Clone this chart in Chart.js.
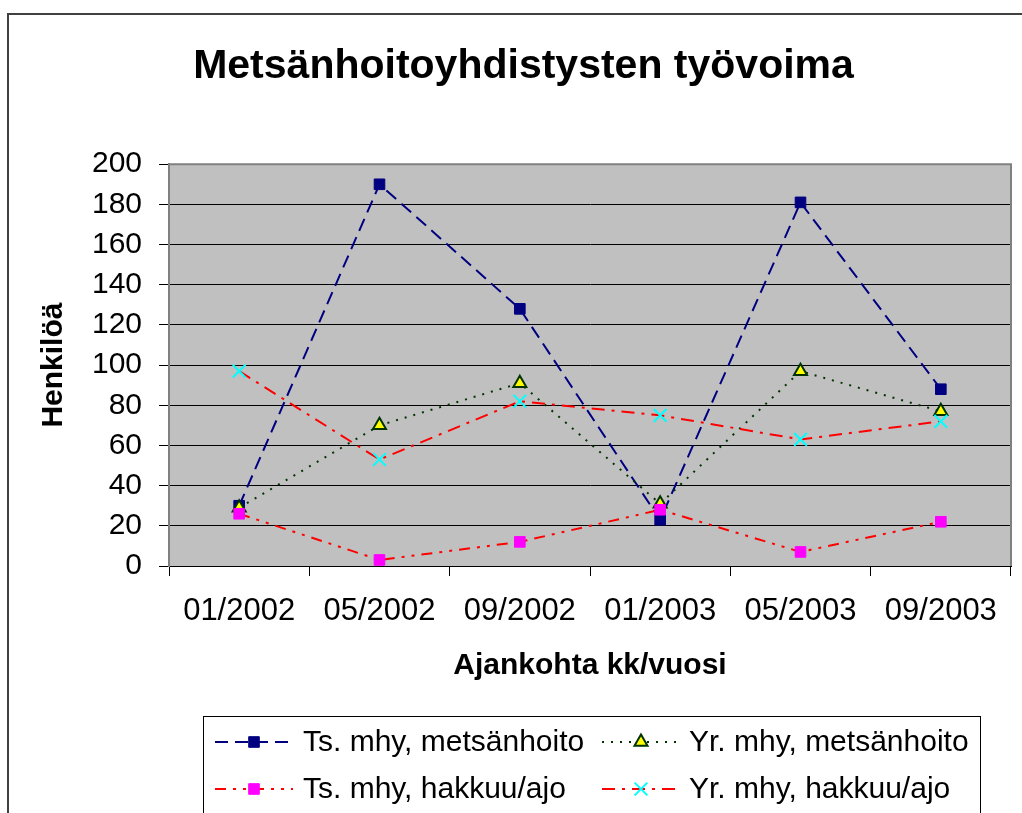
<!DOCTYPE html>
<html>
<head>
<meta charset="utf-8">
<title>Metsänhoitoyhdistysten työvoima</title>
<script src="https://cdn.jsdelivr.net/npm/chart.js@4/dist/chart.umd.min.js"></script>
<style>
  html, body { margin: 0; padding: 0; background: #ffffff; }
  canvas { display: block; }
</style>
</head>
<body>
<canvas id="chart" width="1022" height="813"></canvas>
<script>
// ==============================
// Data
// ==============================
const periods = ['01/2002', '05/2002', '09/2002', '01/2003', '05/2003', '09/2003'];

const tsMetsanhoito = [30, 190, 128, 23, 181, 88];
const yrMetsanhoito = [29, 70, 91, 31, 97, 77];
const tsHakkuu = [26, 3, 12, 28, 7, 22];
const yrHakkuu = [97, 53, 82, 75, 63, 72];

const seriesNames = [
    'Ts. mhy, metsänhoito',
    'Yr. mhy, metsänhoito',
    'Ts. mhy, hakkuu/ajo',
    'Yr. mhy, hakkuu/ajo'
];

const yMin = 0;
const yMax = 200;
const yStep = 20;

const FONT = 'Arial, "Liberation Sans", sans-serif';
Chart.defaults.font.family = FONT;
Chart.defaults.color = '#000000';

// ==============================
// Plugins: frame, plot background, legend
// ==============================
const frameAndPlot = {
    id: 'frameAndPlot',
    beforeDraw(chart) {
        const ctx = chart.ctx;
        const a = chart.chartArea;
        ctx.save();
        ctx.fillStyle = '#ffffff';
        ctx.fillRect(0, 0, chart.width, chart.height);
        // outer chart frame
        ctx.strokeStyle = '#404040';
        ctx.lineWidth = 2;
        ctx.strokeRect(8, 14, chart.width + 20, chart.height + 20);
        // plot area
        ctx.fillStyle = '#c0c0c0';
        ctx.fillRect(a.left, a.top, a.right - a.left, a.bottom - a.top);
        ctx.restore();
    },
    afterDatasetsDraw(chart) {
        const ctx = chart.ctx;
        const a = chart.chartArea;
        ctx.save();
        ctx.strokeStyle = '#808080';
        ctx.lineWidth = 2;
        ctx.beginPath();
        ctx.moveTo(a.left, a.top);
        ctx.lineTo(a.right, a.top);
        ctx.lineTo(a.right, a.bottom);
        ctx.stroke();
        ctx.restore();
    }
};

const boxLegend = {
    id: 'boxLegend',
    afterDraw(chart) {
        const ctx = chart.ctx;
        const box = { left: 203.5, top: 716.5, right: 980.5 };
        const cols = [{ lineStart: 215, lineEnd: 293, text: 303 }, { lineStart: 602, lineEnd: 680, text: 689 }];
        const rows = [742, 789];

        ctx.save();
        ctx.strokeStyle = '#000000';
        ctx.lineWidth = 1;
        ctx.strokeRect(box.left, box.top, box.right - box.left, chart.height + 20 - box.top);

        chart.data.datasets.forEach((ds, i) => {
            const col = cols[i % 2];
            const y = rows[Math.floor(i / 2)];
            // line sample
            ctx.strokeStyle = ds.borderColor;
            ctx.lineWidth = ds.borderWidth;
            ctx.setLineDash(ds.borderDash || []);
            ctx.beginPath();
            ctx.moveTo(col.lineStart, y);
            ctx.lineTo(col.lineEnd, y);
            ctx.stroke();
            ctx.setLineDash([]);
            // marker
            ctx.fillStyle = ds.pointBackgroundColor;
            ctx.strokeStyle = ds.pointBorderColor;
            ctx.lineWidth = ds.pointBorderWidth;
            Chart.helpers.drawPoint(ctx, {
                pointStyle: ds.pointStyle,
                radius: ds.pointRadius,
                rotation: 0,
                borderWidth: ds.pointBorderWidth
            }, (col.lineStart + col.lineEnd) / 2, y);
            // label
            ctx.fillStyle = '#000000';
            ctx.font = '30px ' + FONT;
            ctx.textAlign = 'left';
            ctx.textBaseline = 'middle';
            ctx.fillText(seriesNames[i], col.text, y + 1);
        });
        ctx.restore();
    }
};

// ==============================
// Chart
// ==============================
const ctx = document.getElementById('chart').getContext('2d');
const chart = new Chart(ctx, {
    type: 'line',
    data: {
        labels: periods,
        datasets: [
            {
                label: seriesNames[0],
                data: tsMetsanhoito,
                borderColor: '#000080',
                borderWidth: 2,
                borderDash: [13, 7],
                pointStyle: 'rect',
                pointRadius: 7.5,
                pointBackgroundColor: '#000080',
                pointBorderColor: '#000080',
                pointBorderWidth: 1,
                order: 4
            },
            {
                label: seriesNames[1],
                data: yrMetsanhoito,
                borderColor: '#003300',
                borderWidth: 2,
                borderDash: [2, 7],
                pointStyle: 'triangle',
                pointRadius: 7.5,
                pointBackgroundColor: '#ffff00',
                pointBorderColor: '#003300',
                pointBorderWidth: 2,
                order: 3
            },
            {
                label: seriesNames[2],
                data: tsHakkuu,
                borderColor: '#ff0000',
                borderWidth: 2,
                borderDash: [11, 7, 3, 7, 3, 7],
                pointStyle: 'rect',
                pointRadius: 7.5,
                pointBackgroundColor: '#ff00ff',
                pointBorderColor: '#ff00ff',
                pointBorderWidth: 1,
                order: 2
            },
            {
                label: seriesNames[3],
                data: yrHakkuu,
                borderColor: '#ff0000',
                borderWidth: 2,
                borderDash: [13, 7, 3, 7],
                pointStyle: 'crossRot',
                pointRadius: 9,
                pointBackgroundColor: '#00ffff',
                pointBorderColor: '#00ffff',
                pointBorderWidth: 2,
                order: 1
            }
        ]
    },
    options: {
        responsive: false,
        animation: false,
        devicePixelRatio: 1,
        layout: { padding: { left: 28, right: 3, top: 0, bottom: 113 } },
        elements: { line: { tension: 0, fill: false } },
        plugins: {
            legend: { display: false },
            tooltip: { enabled: false },
            title: {
                display: true,
                text: 'Metsänhoitoyhdistysten työvoima',
                color: '#000000',
                font: { size: 41, weight: 'bold' },
                padding: { top: 42, bottom: 73 }
            }
        },
        scales: {
            x: {
                offset: true,
                afterFit(scale) { scale.height = 134; },
                grid: {
                    offset: true,
                    drawOnChartArea: false,
                    drawTicks: true,
                    tickLength: 10,
                    color: '#000000'
                },
                border: { color: '#000000', width: 1 },
                ticks: { font: { size: 31 }, color: '#000000', padding: 17, maxRotation: 0, autoSkip: false },
                title: {
                    display: true,
                    text: 'Ajankohta kk/vuosi',
                    color: '#000000',
                    font: { size: 30, weight: 'bold' },
                    padding: { top: 0, bottom: 16 }
                }
            },
            y: {
                min: yMin,
                max: yMax,
                afterFit(scale) { scale.width = 141; },
                grid: { color: '#000000', lineWidth: 1, tickLength: 10 },
                border: { color: '#808080', width: 2 },
                ticks: { stepSize: yStep, font: { size: 30 }, color: '#000000', padding: 17, autoSkip: false },
                title: {
                    display: true,
                    text: 'Henkilöä',
                    color: '#000000',
                    font: { size: 30, weight: 'bold' },
                    padding: { top: 8, bottom: 0 }
                }
            }
        }
    },
    plugins: [frameAndPlot, boxLegend]
});
</script>
</body>
</html>
